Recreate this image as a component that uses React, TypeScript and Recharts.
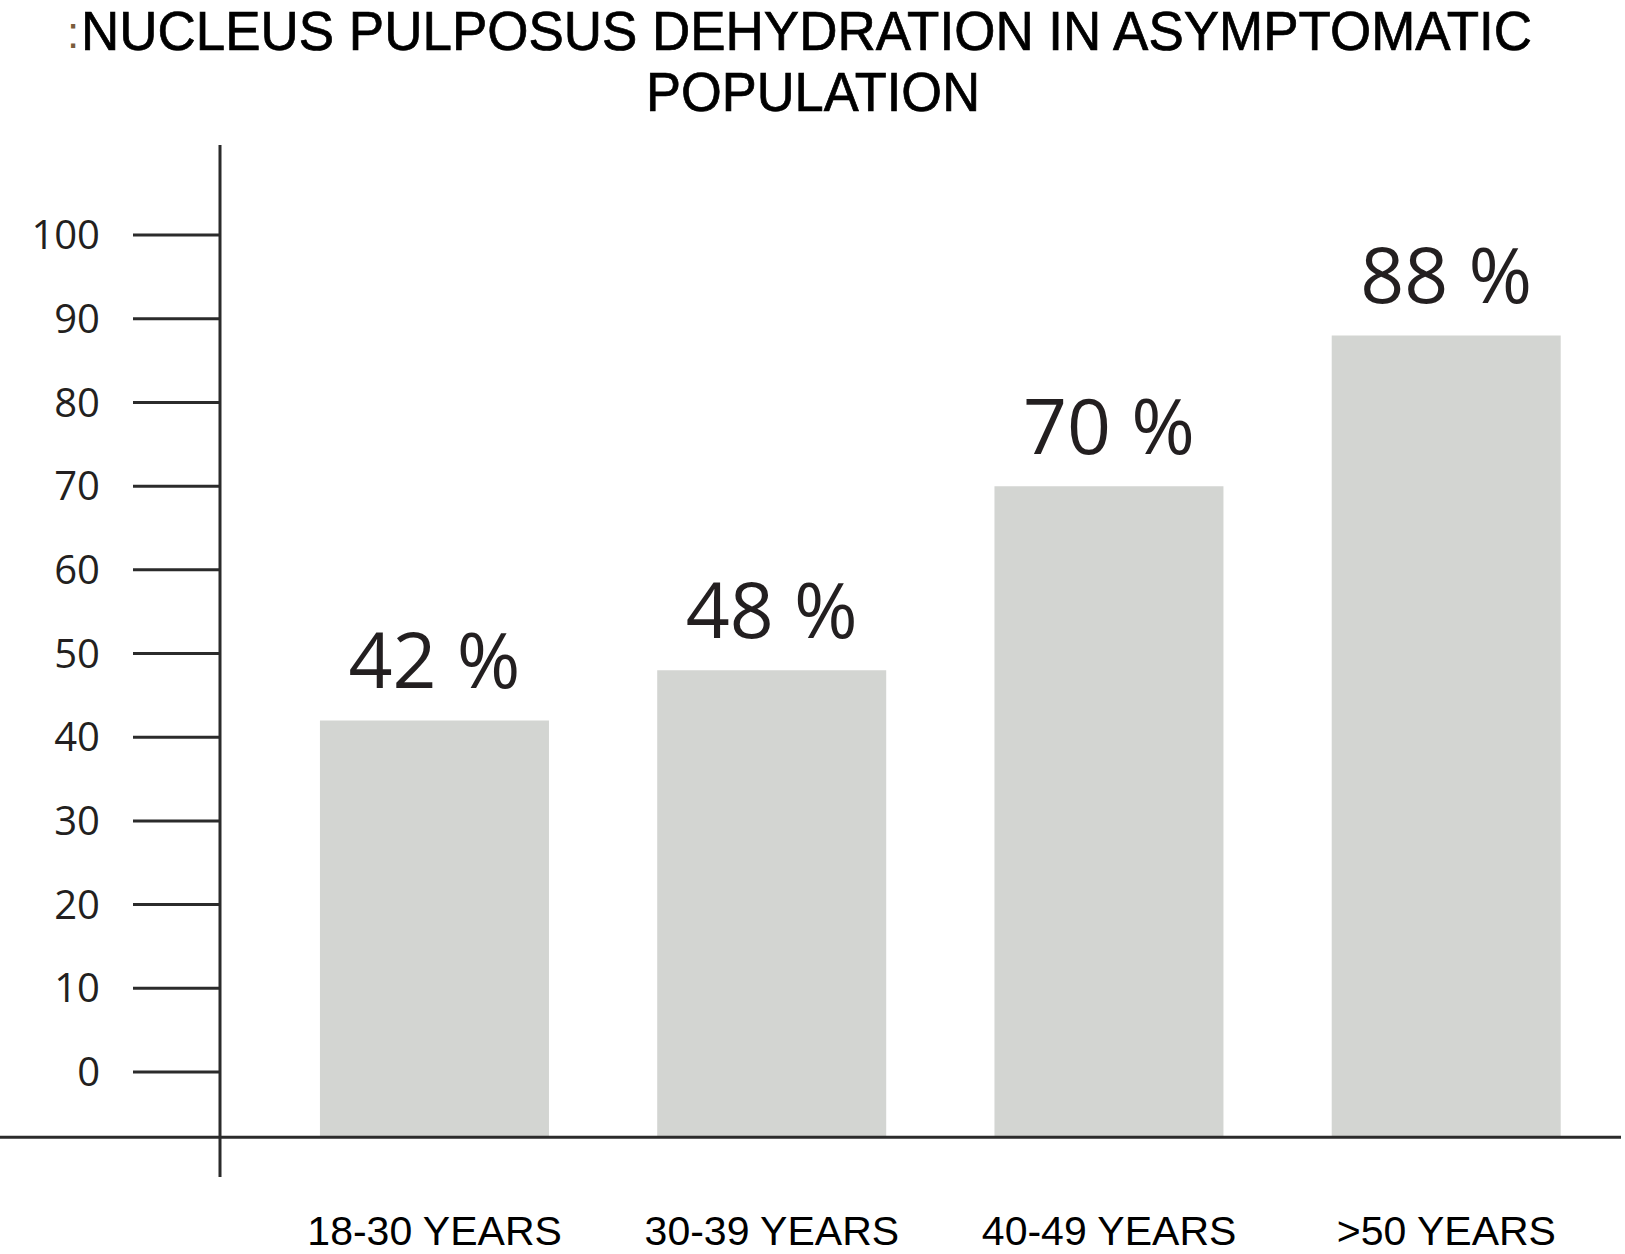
import { BarChart, Bar, XAxis, YAxis, ReferenceLine, LabelList } from 'recharts';

// grupos de edad y porcentaje con deshidratación
const ageGroups = ['18-30 YEARS', '30-39 YEARS', '40-49 YEARS', '>50 YEARS'];
const dehydration = [42, 48, 70, 88];
const yTicks = [0, 10, 20, 30, 40, 50, 60, 70, 80, 90, 100];

// the drawn x axis sits a bit below the 0 tick in the original figure
const AXIS_BASE = -7.8;
const Y_DOMAIN: [number, number] = [-12.55, 110.76];

const data = ageGroups.map((group, i) => ({
  group,
  value: dehydration[i],
  range: [AXIS_BASE, dehydration[i]],
}));

const INK = '#2b2b2b';
const TITLE_FONT = "'Liberation Sans', Arial, sans-serif";

const App = () => {
  return (
    <div style={{ position: 'absolute', left: 0, top: 0, width: 1625, height: 1254, background: '#fff' }}>
      <svg width={1625} height={130} style={{ position: 'absolute', left: 0, top: 0 }}>
        <text x={67} y={48} fontFamily={TITLE_FONT} fontSize={44} fill="#7a5c3c">:</text>
        <text
          x={81}
          y={50}
          fontFamily={TITLE_FONT}
          fontSize={55}
          fill="#000"
          stroke="#000"
          strokeWidth={0.7}
          textLength={1451}
          lengthAdjust="spacingAndGlyphs"
        >
          NUCLEUS PULPOSUS DEHYDRATION IN ASYMPTOMATIC
        </text>
        <text
          x={646}
          y={111}
          fontFamily={TITLE_FONT}
          fontSize={55}
          fill="#000"
          stroke="#000"
          strokeWidth={0.7}
          textLength={334}
          lengthAdjust="spacingAndGlyphs"
        >
          POPULATION
        </text>
      </svg>

      <div style={{ position: 'absolute', left: 0, top: 0 }}>
        <BarChart
          width={1625}
          height={1254}
          data={data}
          margin={{ top: 145, right: 10, left: 0, bottom: 0 }}
          barCategoryGap="16%"
        >
          <XAxis
            dataKey="group"
            type="category"
            padding={{ left: 46, right: 0 }}
            axisLine={false}
            tickLine={false}
            tickSize={0}
            tickMargin={39}
            height={77}
            interval={0}
            tick={{ fill: '#000', fontSize: 41, fontFamily: TITLE_FONT }}
          />
          <YAxis
            type="number"
            domain={Y_DOMAIN}
            allowDataOverflow
            ticks={yTicks}
            interval={0}
            width={220}
            tickSize={87}
            tickMargin={33}
            axisLine={{ stroke: INK, strokeWidth: 3 }}
            tickLine={{ stroke: INK, strokeWidth: 3 }}
            tick={{ fill: '#231f20', fontSize: 40, fontFamily: "'Open Sans', sans-serif" }}
          />
          <Bar dataKey="range" fill="#d3d5d2" isAnimationActive={false}>
            <LabelList
              dataKey="value"
              position="top"
              offset={32}
              formatter={(v: any) => `${v} %`}
              style={{ fill: '#231f20', fontSize: 77, fontFamily: "'Open Sans', sans-serif" }}
            />
          </Bar>
          <ReferenceLine
            y={AXIS_BASE}
            ifOverflow="visible"
            shape={(p: any) => (
              <line x1={0} x2={1621} y1={p.y1} y2={p.y2} stroke={INK} strokeWidth={3} />
            )}
          />
        </BarChart>
      </div>
    </div>
  );
};

export default App;
